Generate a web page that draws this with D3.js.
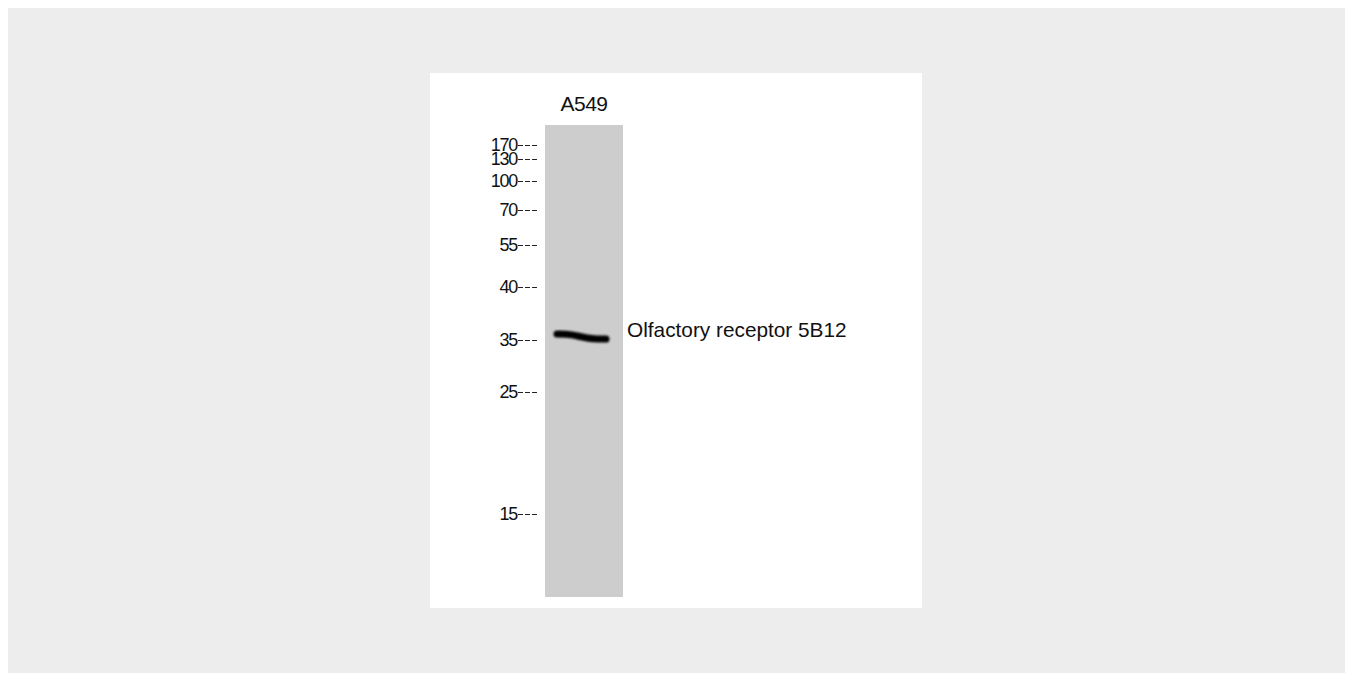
<!DOCTYPE html>
<html>
<head>
<meta charset="utf-8">
<script src="https://cdn.jsdelivr.net/npm/d3@7"></script>
<style>
  html, body { margin: 0; padding: 0; background: #fff; }
  #blot { display: block; }
</style>
</head>
<body>
<svg id="blot"></svg>
<script>
(function () {
    // Daten
    var lanes        = ['A549'];
    var markers      = [170, 130, 100, 70, 55, 40, 35, 25, 15];
    var markerLabels = ['170', '130', '100', '70', '55', '40', '35', '25', '15'];
    var bandLanes    = ['A549'];
    var bandMw       = [35.3];
    var bandLabels   = ['Olfactory receptor 5B12'];

    var W = 1345, H = 673;
    var svg = d3.select('#blot').attr('width', W).attr('height', H);

    // Hintergrund
    svg.append('rect').attr('x', 8).attr('y', 8).attr('width', W - 8).attr('height', H - 8).attr('fill', '#ededed');
    svg.append('rect').attr('x', 430).attr('y', 73).attr('width', 492).attr('height', 535).attr('fill', '#ffffff');

    // Kalibrierung der Marker (Leiter, stückweise log)
    var y = d3.scaleLog()
        .domain(markers)
        .range([145, 159, 181, 210, 245, 287, 340, 392, 514]);

    var x = d3.scaleBand().domain(lanes).range([545, 623]).padding(0);

    var defs = svg.append('defs');
    defs.append('filter').attr('id', 'blur')
        .attr('x', '-20%').attr('y', '-100%').attr('width', '140%').attr('height', '300%')
        .append('feGaussianBlur').attr('stdDeviation', 1.3);

    // Spur
    svg.selectAll('rect.lane').data(lanes).enter().append('rect')
        .attr('class', 'lane')
        .attr('x', function (d) { return x(d); })
        .attr('y', 125)
        .attr('width', x.bandwidth())
        .attr('height', 472)
        .attr('fill', '#cdcdcd');

    svg.selectAll('text.lane').data(lanes).enter().append('text')
        .attr('class', 'lane')
        .attr('x', function (d) { return x(d) + x.bandwidth() / 2; })
        .attr('y', 111)
        .attr('text-anchor', 'middle')
        .attr('font-family', 'Liberation Sans, Arial, sans-serif')
        .attr('font-size', 21)
        .attr('letter-spacing', -0.5)
        .attr('fill', '#111')
        .text(function (d) { return d; });

    // Marker: Zahl + gestrichelte Markierung
    var tickEnd = 537, tickLen = 20;
    markers.forEach(function (m, i) {
        svg.append('text')
            .attr('x', tickEnd - tickLen)
            .attr('y', y(m))
            .attr('dy', '0.36em')
            .attr('text-anchor', 'end')
            .attr('font-family', 'Liberation Sans, Arial, sans-serif')
            .attr('font-size', 18)
            .attr('letter-spacing', -1.3)
            .attr('fill', '#111')
            .text(markerLabels[i]);

        svg.append('line')
            .attr('x1', tickEnd - tickLen + 1)
            .attr('x2', tickEnd)
            .attr('y1', y(m) + 0.5)
            .attr('y2', y(m) + 0.5)
            .attr('stroke', '#222')
            .attr('stroke-width', 1.2)
            .attr('stroke-dasharray', '5,2');
    });

    // Bande
    var line = d3.line().curve(d3.curveBasis);
    bandLanes.forEach(function (ln, i) {
        var x0 = x(ln) + 12, x1 = x(ln) + x.bandwidth() - 17;
        var yc = y(bandMw[i]);
        var pts = [[x0, yc - 2.5], [x0 + (x1 - x0) * 0.3, yc - 2.5], [x0 + (x1 - x0) * 0.6, yc + 2], [x1, yc + 2.5]];
        var g = svg.append('g').attr('filter', 'url(#blur)');
        g.append('path')
            .attr('d', line(pts))
            .attr('fill', 'none')
            .attr('stroke', '#050505')
            .attr('stroke-width', 7)
            .attr('stroke-linecap', 'round');

        svg.append('text')
            .attr('x', 627)
            .attr('y', yc - 7)
            .attr('dy', '0.35em')
            .attr('font-family', 'Liberation Sans, Arial, sans-serif')
            .attr('font-size', 20.8)
            .attr('fill', '#111')
            .text(bandLabels[i]);
    });
})();
</script>
</body>
</html>
